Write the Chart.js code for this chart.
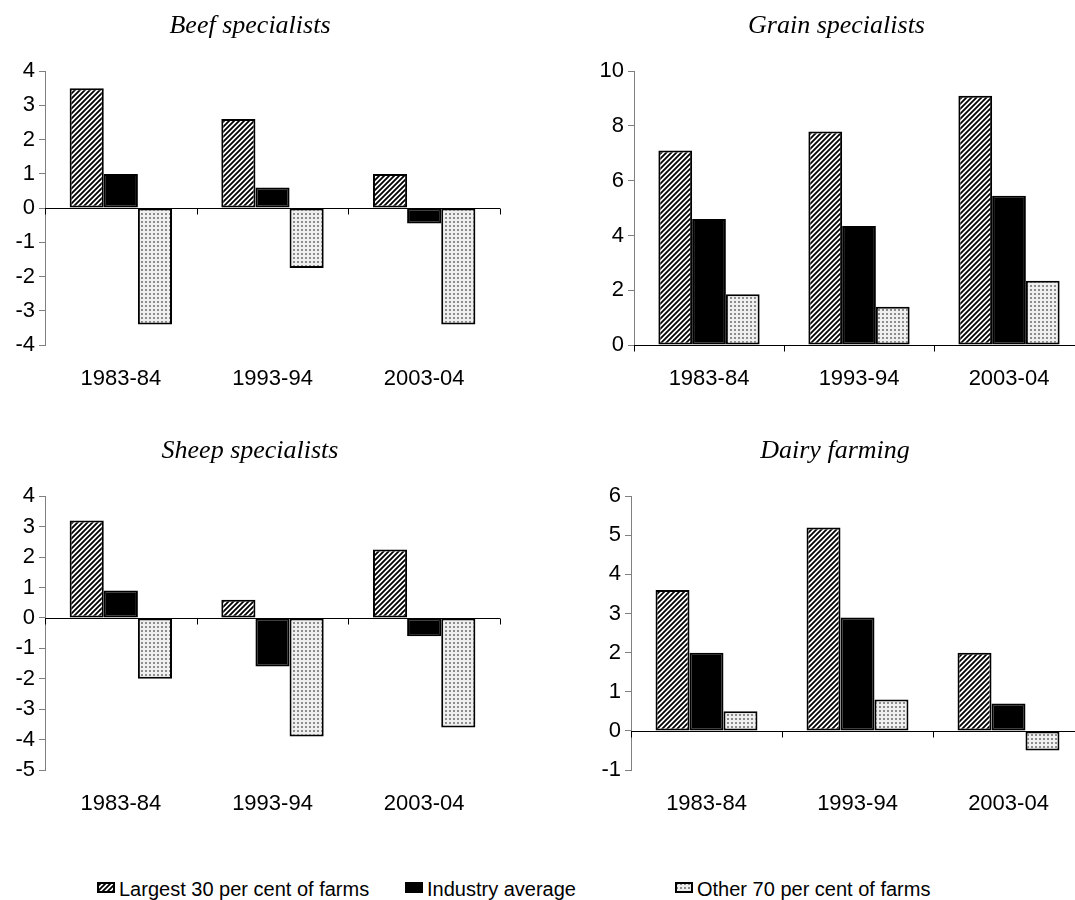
<!DOCTYPE html>
<html>
<head>
<meta charset="utf-8">
<script src="https://cdn.jsdelivr.net/npm/chart.js@4.4.1/dist/chart.umd.min.js"></script>
<style>
  html, body { margin: 0; padding: 0; background: #fff; overflow: hidden; }
  body { width: 1075px; height: 900px; position: relative; font-family: "Liberation Sans", Arial, sans-serif; }
  canvas.panel { position: absolute; }
  .item { position: absolute; top: 877px; height: 24px; line-height: 24px; font-size: 20px; color: #000; white-space: nowrap; }
  .item canvas { position: absolute; left: 0; top: 5px; }
  .item span { position: absolute; left: 22px; top: 0; }
</style>
</head>
<body>
<canvas id="beef" class="panel" width="505" height="400" style="left:0;top:0"></canvas>
<canvas id="grain" class="panel" width="500" height="400" style="left:589px;top:0"></canvas>
<canvas id="sheep" class="panel" width="505" height="400" style="left:0;top:425px"></canvas>
<canvas id="dairy" class="panel" width="503" height="400" style="left:586px;top:425px"></canvas>

<div class="item" style="left:97px"><canvas id="sw0" width="18" height="11"></canvas><span id="lg0"></span></div>
<div class="item" style="left:405px"><canvas id="sw1" width="18" height="11"></canvas><span id="lg1"></span></div>
<div class="item" style="left:675px"><canvas id="sw2" width="18" height="11"></canvas><span id="lg2"></span></div>

<script>
const years = ['1983-84', '1993-94', '2003-04'];
const seriesNames = ['Largest 30 per cent of farms', 'Industry average', 'Other 70 per cent of farms'];

const beefLargest = [3.5, 2.6, 1.0];
const beefIndustry = [1.0, 0.6, -0.45];
const beefOther = [-3.4, -1.75, -3.4];

const grainLargest = [7.1, 7.8, 9.1];
const grainIndustry = [4.6, 4.35, 5.45];
const grainOther = [1.85, 1.4, 2.35];

const sheepLargest = [3.2, 0.6, 2.25];
const sheepIndustry = [0.9, -1.6, -0.6];
const sheepOther = [-2.0, -3.9, -3.6];

const dairyLargest = [3.6, 5.2, 2.0];
const dairyIndustry = [2.0, 2.9, 0.7];
const dairyOther = [0.5, 0.8, -0.5];

// fill patterns
function hatch() {
    const c = document.createElement('canvas');
    c.width = 5; c.height = 5;
    const g = c.getContext('2d');
    g.fillStyle = '#fff';
    g.fillRect(0, 0, 5, 5);
    g.strokeStyle = '#000';
    g.lineWidth = 1.8;
    g.beginPath();
    g.moveTo(-1, 6); g.lineTo(6, -1);
    g.moveTo(-1, 1); g.lineTo(1, -1);
    g.moveTo(4, 6); g.lineTo(6, 4);
    g.stroke();
    return g.createPattern(c, 'repeat');
}
function dots() {
    const c = document.createElement('canvas');
    c.width = 4; c.height = 4;
    const g = c.getContext('2d');
    g.fillStyle = '#efefef';
    g.fillRect(0, 0, 4, 4);
    g.fillStyle = '#8c8c8c';
    g.fillRect(1, 1, 2, 2);
    return g.createPattern(c, 'repeat');
}
const fills = [hatch(), '#000', dots()];

// zero line + category tick marks, like the original
const zeroLine = {
    id: 'zeroLine',
    beforeDatasetsDraw(chart) {
        const { ctx, chartArea, scales } = chart;
        const y = Math.round(scales.y.getPixelForValue(0)) + 0.5;
        const w = (chartArea.right - chartArea.left) / years.length;
        ctx.save();
        ctx.strokeStyle = '#000';
        ctx.lineWidth = 1;
        ctx.beginPath();
        ctx.moveTo(chartArea.left, y);
        ctx.lineTo(chartArea.right, y);
        for (let k = 0; k <= years.length; k++) {
            const x = Math.round(chartArea.left + k * w) + 0.5;
            ctx.moveTo(x, y);
            ctx.lineTo(x, y + 6);
        }
        ctx.stroke();
        ctx.restore();
    }
};

const axisFont = { family: '"Liberation Sans", Arial, sans-serif', size: 22 };

function makeChart(id, title, largest, industry, other, min, max, step) {
    const values = [largest, industry, other];
    return new Chart(document.getElementById(id), {
        type: 'bar',
        data: {
            labels: years,
            datasets: values.map((v, i) => ({
                label: seriesNames[i],
                data: v,
                backgroundColor: fills[i],
                borderColor: '#000',
                borderWidth: 2,
                borderSkipped: false
            }))
        },
        options: {
            responsive: false,
            animation: false,
            layout: { padding: { left: 0, right: 5, top: 0, bottom: 0 } },
            datasets: { bar: { categoryPercentage: 0.675, barPercentage: 1 } },
            plugins: {
                legend: { display: false },
                tooltip: { enabled: false },
                title: {
                    display: true,
                    text: title,
                    color: '#000',
                    font: { family: '"Liberation Serif", "Times New Roman", serif', size: 26, style: 'italic', weight: 'normal' },
                    padding: { top: 11, bottom: 29 }
                }
            },
            scales: {
                x: {
                    grid: { display: false, drawTicks: false },
                    border: { display: false },
                    ticks: { color: '#000', padding: 21, font: axisFont },
                    afterFit(scale) { scale.height = 55; }
                },
                y: {
                    min: min,
                    max: max,
                    ticks: { stepSize: step, color: '#000', padding: 4, font: axisFont },
                    grid: { drawOnChartArea: false, drawTicks: true, tickLength: 6, color: '#808080' },
                    border: { display: true, color: '#808080', width: 1 },
                    afterFit(scale) { scale.width = 45; }
                }
            }
        },
        plugins: [zeroLine]
    });
}

makeChart('beef', 'Beef specialists', beefLargest, beefIndustry, beefOther, -4, 4, 1);
makeChart('grain', 'Grain specialists', grainLargest, grainIndustry, grainOther, 0, 10, 2);
makeChart('sheep', 'Sheep specialists', sheepLargest, sheepIndustry, sheepOther, -5, 4, 1);
makeChart('dairy', 'Dairy farming', dairyLargest, dairyIndustry, dairyOther, -1, 6, 1);

// legend
seriesNames.forEach((name, i) => {
    document.getElementById('lg' + i).textContent = name;
    const c = document.getElementById('sw' + i);
    const g = c.getContext('2d');
    g.fillStyle = fills[i];
    g.fillRect(0, 0, 18, 11);
    g.strokeStyle = '#000';
    g.lineWidth = 2;
    g.strokeRect(1, 1, 16, 9);
});
</script>
</body>
</html>
